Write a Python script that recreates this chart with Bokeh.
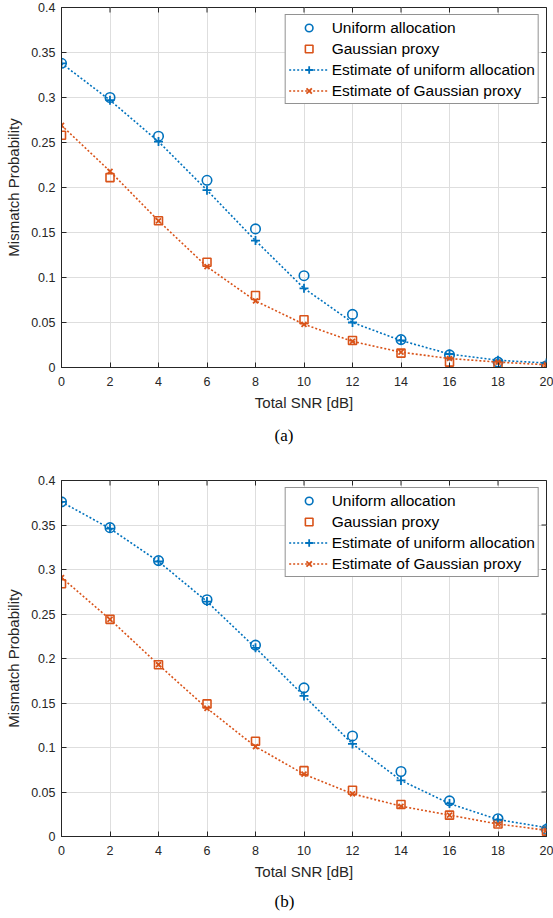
import math
from bokeh.plotting import figure
from bokeh.layouts import column
from bokeh.models import FixedTicker, Range1d, Title, Legend, LegendItem
from bokeh.embed import file_html
from bokeh.resources import INLINE

# ---------------- data ----------------
snr_db = [0, 2, 4, 6, 8, 10, 12, 14, 16, 18, 20]

a_uniform = [0.338, 0.300, 0.257, 0.208, 0.154, 0.102, 0.059, 0.031, 0.014, 0.006, 0.002]
a_gauss = [0.258, 0.211, 0.163, 0.117, 0.080, 0.053, 0.030, 0.016, 0.006, 0.002, 0.001]
a_est_uniform = [0.338, 0.297, 0.251, 0.197, 0.141, 0.088, 0.050, 0.030, 0.015, 0.008, 0.005]
a_est_gauss = [0.269, 0.218, 0.163, 0.112, 0.074, 0.048, 0.029, 0.017, 0.010, 0.006, 0.003]

b_uniform = [0.376, 0.347, 0.310, 0.266, 0.215, 0.167, 0.113, 0.073, 0.040, 0.020, 0.008]
b_gauss = [0.284, 0.244, 0.193, 0.149, 0.107, 0.074, 0.052, 0.036, 0.024, 0.014, 0.006]
b_est_uniform = [0.376, 0.346, 0.309, 0.264, 0.212, 0.158, 0.104, 0.063, 0.037, 0.019, 0.010]
b_est_gauss = [0.291, 0.244, 0.193, 0.144, 0.101, 0.070, 0.048, 0.034, 0.024, 0.014, 0.007]

x_ticks = [0, 2, 4, 6, 8, 10, 12, 14, 16, 18, 20]
y_ticks = [0.0, 0.05, 0.1, 0.15, 0.2, 0.25, 0.3, 0.35, 0.4]
y_tick_labels = ["0", "0.05", "0.1", "0.15", "0.2", "0.25", "0.3", "0.35", "0.4"]
x_limits = (0, 20)
y_limits = (0, 0.4)

series_names = ["Uniform allocation", "Gaussian proxy",
                "Estimate of uniform allocation", "Estimate of Gaussian proxy"]
x_label = "Total SNR [dB]"
y_label = "Mismatch Probability"

BLUE = "#0072BD"
ORANGE = "#D95319"
AX = "#262626"
GRID = "#dedede"
SANS = "Liberation Sans"


def style_axis(ax):
    ax.axis_line_color = AX
    ax.major_tick_line_color = AX
    ax.major_tick_in = 5
    ax.major_tick_out = 0
    ax.minor_tick_line_color = None
    ax.major_label_text_font = SANS
    ax.major_label_text_font_size = "12.5px"
    ax.major_label_text_color = AX
    ax.axis_label_text_font = SANS
    ax.axis_label_text_font_size = "15px"
    ax.axis_label_text_font_style = "normal"
    ax.axis_label_text_color = AX


def make_panel(uni, gau, est_u, est_g, caption, height, top, bottom, cap_standoff):
    p = figure(width=553, height=height,
               x_range=Range1d(*x_limits), y_range=Range1d(*y_limits),
               output_backend="svg", toolbar_location=None,
               min_border_left=61, min_border_right=7,
               min_border_top=top, min_border_bottom=bottom)
    p.background_fill_color = "white"
    p.border_fill_color = "white"
    p.outline_line_color = AX
    p.outline_line_width = 1

    p.xaxis.ticker = FixedTicker(ticks=x_ticks)
    p.yaxis.ticker = FixedTicker(ticks=y_ticks)
    p.yaxis.major_label_overrides = {t: l for t, l in zip(y_ticks, y_tick_labels)}
    p.xaxis.axis_label = x_label
    p.yaxis.axis_label = y_label
    for ax in p.xaxis + p.yaxis:
        style_axis(ax)
    p.xaxis.major_label_standoff = 9
    p.xaxis.axis_label_standoff = 5
    p.yaxis.major_label_standoff = 6
    p.yaxis.axis_label_standoff = 6

    p.xgrid.ticker = FixedTicker(ticks=x_ticks)
    p.ygrid.ticker = FixedTicker(ticks=y_ticks)
    p.grid.grid_line_color = GRID
    p.grid.grid_line_width = 1

    # box ticks on the top and right edges (half of each dash is clipped away)
    p.scatter(x_ticks, [y_limits[1]] * len(x_ticks), marker="dash", size=10,
              angle=math.pi / 2, line_color=AX, line_width=1)
    p.scatter([x_limits[1]] * len(y_ticks), y_ticks, marker="dash", size=10,
              line_color=AX, line_width=1)

    r_u = p.scatter(snr_db, uni, marker="circle", size=9.5, fill_color=None,
                    line_color=BLUE, line_width=1.6)
    r_g = p.scatter(snr_db, gau, marker="square", size=8, fill_color=None,
                    line_color=ORANGE, line_width=1.6)
    l_eu = p.line(snr_db, est_u, line_color=BLUE, line_width=1.6, line_dash="2 2")
    m_eu = p.scatter(snr_db, est_u, marker="cross", size=9, line_color=BLUE,
                     line_width=1.8)
    l_eg = p.line(snr_db, est_g, line_color=ORANGE, line_width=1.6, line_dash="2 2")
    m_eg = p.scatter(snr_db, est_g, marker="x", size=7, line_color=ORANGE,
                     line_width=1.8)

    legend = Legend(items=[
        LegendItem(label=series_names[0], renderers=[r_u]),
        LegendItem(label=series_names[1], renderers=[r_g]),
        LegendItem(label=series_names[2], renderers=[l_eu, m_eu]),
        LegendItem(label=series_names[3], renderers=[l_eg, m_eg]),
    ])
    legend.location = "top_right"
    legend.margin = 7
    legend.padding = 3
    legend.spacing = 2
    legend.glyph_width = 40
    legend.glyph_height = 19
    legend.label_height = 19
    legend.label_standoff = 3
    legend.label_text_font = SANS
    legend.label_text_font_size = "15.5px"
    legend.label_text_color = "black"
    legend.border_line_color = AX
    legend.border_line_width = 1
    legend.background_fill_color = "white"
    legend.background_fill_alpha = 1
    p.add_layout(legend, "center")

    cap = Title(text=caption, align="left", offset=213,
                text_font="Liberation Serif", text_font_size="17px",
                text_font_style="normal", text_color="black",
                standoff=cap_standoff)
    p.add_layout(cap, "below")
    return p


pa = make_panel(a_uniform, a_gauss, a_est_uniform, a_est_gauss, "(a)",
                height=468, top=7, bottom=101, cap_standoff=21)
pb = make_panel(b_uniform, b_gauss, b_est_uniform, b_est_gauss, "(b)",
                height=450, top=12, bottom=80, cap_standoff=15)

layout = column(pa, pb, spacing=0)
open("out.html", "w").write(file_html(layout, INLINE))
